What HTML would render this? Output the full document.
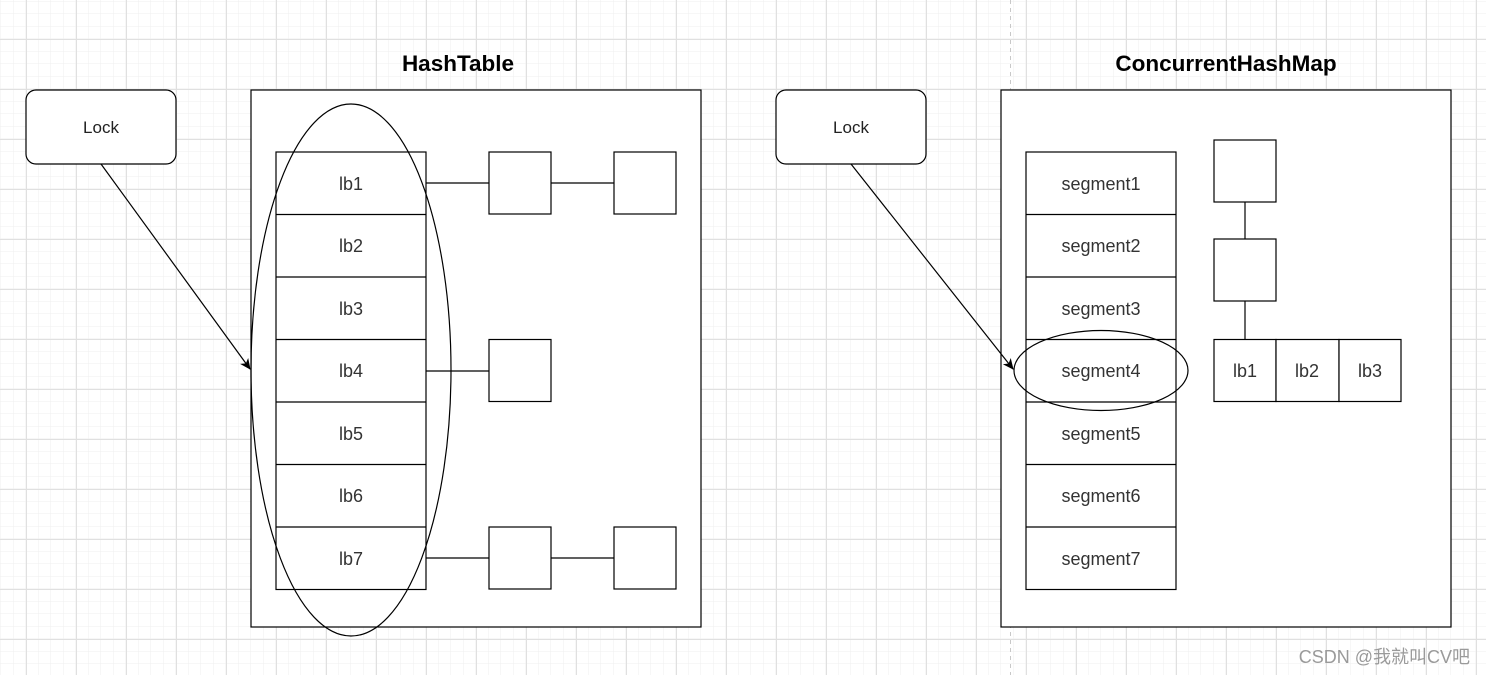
<!DOCTYPE html>
<html><head><meta charset="utf-8"><style>
html,body{margin:0;padding:0;background:#fff;}
svg{display:block;}
</style></head><body>
<svg width="1486" height="675" viewBox="0 0 1486 675" xmlns="http://www.w3.org/2000/svg" font-family="Liberation Sans, Arial, sans-serif">
<defs>
<pattern id="minor" x="1" y="1.5" width="12.5" height="12.5" patternUnits="userSpaceOnUse">
<path d="M12.5 0V12.5M0 12.5H12.5" stroke="#efefef" stroke-width="1" fill="none"/>
</pattern>
<pattern id="major" x="26" y="39" width="50" height="50" patternUnits="userSpaceOnUse">
<path d="M0.5 0V50M0 0.5H50" stroke="#e0e0e0" stroke-width="1" fill="none"/>
</pattern>
<marker id="ah" markerWidth="12" markerHeight="12" refX="10" refY="6" orient="auto" markerUnits="userSpaceOnUse">
<path d="M0,1 L11,6 L0,11 L3,6 Z" fill="#000"/>
</marker>
</defs>
<rect width="1486" height="675" fill="url(#minor)"/>
<rect width="1486" height="675" fill="url(#major)"/>
<line x1="1010.5" y1="0" x2="1010.5" y2="675" stroke="#c8c8c8" stroke-dasharray="4,4"/>

<g stroke="#000" stroke-width="1.2" fill="#fff">
<rect x="26" y="90" width="150" height="74" rx="10"/>
<rect x="251" y="90" width="450" height="537"/>
<rect x="276" y="152" width="150" height="437.5"/>
<line x1="276" y1="214.5" x2="426" y2="214.5"/><line x1="276" y1="277" x2="426" y2="277"/>
<line x1="276" y1="339.5" x2="426" y2="339.5"/><line x1="276" y1="402" x2="426" y2="402"/>
<line x1="276" y1="464.5" x2="426" y2="464.5"/><line x1="276" y1="527" x2="426" y2="527"/>
<line x1="426" y1="183" x2="489" y2="183"/><line x1="551" y1="183" x2="614" y2="183"/>
<line x1="426" y1="371" x2="489" y2="371"/>
<line x1="426" y1="558" x2="489" y2="558"/><line x1="551" y1="558" x2="614" y2="558"/>
<rect x="489" y="152" width="62" height="62"/><rect x="614" y="152" width="62" height="62"/>
<rect x="489" y="339.5" width="62" height="62"/>
<rect x="489" y="527" width="62" height="62"/><rect x="614" y="527" width="62" height="62"/>
<ellipse cx="351" cy="370" rx="100" ry="266" fill="none"/>
<line x1="101" y1="164" x2="250" y2="369" marker-end="url(#ah)"/>
<rect x="776" y="90" width="150" height="74" rx="10"/>
<rect x="1001" y="90" width="450" height="537"/>
<rect x="1026" y="152" width="150" height="437.5"/>
<line x1="1026" y1="214.5" x2="1176" y2="214.5"/><line x1="1026" y1="277" x2="1176" y2="277"/>
<line x1="1026" y1="339.5" x2="1176" y2="339.5"/><line x1="1026" y1="402" x2="1176" y2="402"/>
<line x1="1026" y1="464.5" x2="1176" y2="464.5"/><line x1="1026" y1="527" x2="1176" y2="527"/>
<line x1="1245" y1="202" x2="1245" y2="239"/><line x1="1245" y1="301" x2="1245" y2="339.5"/>
<rect x="1214" y="140" width="62" height="62"/>
<rect x="1214" y="239" width="62" height="62"/>
<rect x="1214" y="339.5" width="62" height="62"/>
<rect x="1276" y="339.5" width="63" height="62"/>
<rect x="1339" y="339.5" width="62" height="62"/>
<ellipse cx="1101" cy="370.5" rx="87" ry="40" fill="none"/>
<line x1="851" y1="164" x2="1013" y2="369" marker-end="url(#ah)"/>
</g>

<g font-size="22.5" font-weight="bold" text-anchor="middle" fill="#000">
<text x="458" y="71">HashTable</text>
<text x="1226" y="71">ConcurrentHashMap</text>
</g>
<g font-size="17" text-anchor="middle" fill="#222">
<text x="101" y="133">Lock</text>
<text x="851" y="133">Lock</text>
</g>
<g font-size="18" text-anchor="middle" fill="#333">
<text x="351" y="190">lb1</text><text x="351" y="252">lb2</text><text x="351" y="315">lb3</text>
<text x="351" y="377">lb4</text><text x="351" y="440">lb5</text><text x="351" y="502">lb6</text>
<text x="351" y="565">lb7</text>
<text x="1101" y="190">segment1</text><text x="1101" y="252">segment2</text><text x="1101" y="315">segment3</text>
<text x="1101" y="377">segment4</text><text x="1101" y="440">segment5</text><text x="1101" y="502">segment6</text>
<text x="1101" y="565">segment7</text>
<text x="1245" y="377">lb1</text><text x="1307" y="377">lb2</text><text x="1370" y="377">lb3</text>
</g>
<text x="1470" y="663" text-anchor="end" font-size="18" fill="#9a9a9a" font-family="Liberation Sans, Noto Sans CJK SC, sans-serif">CSDN @我就叫CV吧</text>
</svg>
</body></html>
